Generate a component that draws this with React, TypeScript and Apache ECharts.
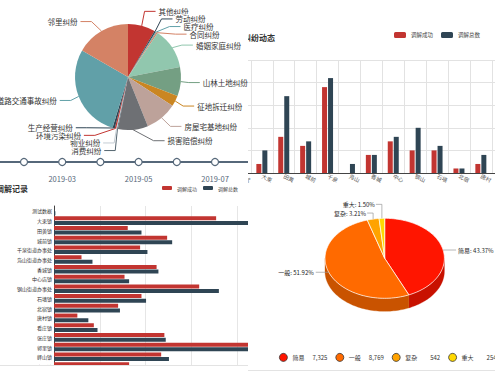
import React, { useEffect, useRef } from 'react';
import * as echarts from 'echarts';

const FONT = '"Noto Sans CJK SC", "Noto Sans", sans-serif';
const PALETTE = ['#c23531', '#2f4554', '#61a0a8', '#d48265', '#91c7ae', '#749f83', '#ca8622', '#bda29a', '#6e7074', '#546570', '#c4ccd3'];

// ---- Panel A: dispute types pie + timeline
const disputeTypes = ['其他纠纷', '劳动纠纷', '医疗纠纷', '合同纠纷', '婚姻家庭纠纷', '山林土地纠纷', '征地拆迁纠纷', '房屋宅基地纠纷', '损害赔偿纠纷', '消费纠纷', '物业纠纷', '环境污染纠纷', '生产经营纠纷', '道路交通事故纠纷', '邻里纠纷'];
const disputeCounts = [60, 3, 2, 3, 90, 64, 24, 70, 66, 2, 2, 3, 5, 206, 120];
const timelineMonths = ['2019-01', '2019-02', '2019-03', '2019-04', '2019-05', '2019-06', '2019-07', '2019-08'];
const timelineLevel = [0, 0, 0, 0, 0, 0, 0, 0];

// ---- Panel B: monthly dispute dynamics by town
const townShort = ['测试', '大束', '田黄', '城前', '千泉', '凫山', '香城', '中心', '钢山', '石墙', '北宿', '唐村', '看庄', '张庄', '郭里', '峄山'];
const dynSuccess = [0, 2, 8, 6, 19, 0, 4, 7, 5, 5, 1, 2, 3, 6, 9, 5];
const dynTotal = [0, 5, 17, 7, 21, 2, 4, 8, 10, 6, 1, 4, 4, 7, 10, 6];

// ---- Panel C: mediation records by town
const towns = ['测试数据', '大束镇', '田黄镇', '城前镇', '千泉街道办事处', '凫山街道办事处', '香城镇', '中心店镇', '钢山街道办事处', '石墙镇', '北宿镇', '唐村镇', '看庄镇', '张庄镇', '郭里镇', '峄山镇', '太平镇', '高新区'];
const recSuccess = [0, 354, 161, 247, 188, 60, 224, 154, 317, 191, 140, 51, 87, 241, 440, 234, 164, 120];
const recTotal = [3, 430, 191, 258, 204, 84, 228, 164, 360, 201, 144, 75, 95, 244, 450, 251, 190, 140];

// ---- Panel D: dispute level 3D pie
const levels = ['简易', '一般', '复杂', '重大'];
const levelCounts = [7325, 8769, 542, 254];
const levelColors = ['#ff1500', '#ff6a00', '#ffa300', '#ffd800'];
const levelSideColors = ['#c81100', '#c95300', '#c98000', '#c9aa00'];

const SUCCESS = '调解成功';
const TOTAL = '调解总数';

function Chart({ style, option }: { style: React.CSSProperties; option: any }) {
  const ref = useRef<HTMLDivElement>(null);
  useEffect(() => {
    const c = echarts.init(ref.current!, null, { renderer: 'svg' });
    c.setOption(option);
    return () => c.dispose();
  }, []);
  return <div ref={ref} style={{ position: 'absolute', ...style }} />;
}

// Classic (v4 style) outside-label layout for the dispute pie
const PIE_A = { cx: 128, cy: 77, r: 53, len: 11, len2: 11, h: 7.6, viewH: 184 };

function adjustSide(list: any[], dir: number) {
  const { cx, cy, r, viewH } = PIE_A;
  list.sort((a, b) => a.y - b.y);
  const len = list.length;
  const shiftUp = (end: number, delta: number) => {
    for (let j = end; j >= 0; j--) {
      list[j].y -= delta;
      if (j > 0 && list[j].y > list[j - 1].y + list[j - 1].height) break;
    }
  };
  const shiftDown = (start: number, end: number, delta: number) => {
    for (let j = start; j < end; j++) {
      list[j].y += delta;
      if (j > start && j + 1 < end && list[j + 1].y > list[j].y + list[j].height) {
        shiftUp(j, delta / 2);
        return;
      }
    }
    shiftUp(end - 1, delta / 2);
  };
  let lastY = 0;
  for (let i = 0; i < len; i++) {
    const delta = list[i].y - lastY;
    if (delta < 0) shiftDown(i, len, -delta);
    lastY = list[i].y + list[i].height;
  }
  if (viewH - lastY < 0 && len) shiftUp(len - 1, lastY - viewH);
  const up = list.filter((it) => it.y < cy);
  const down = list.filter((it) => it.y >= cy);
  const changeX = (arr: any[], isDown: boolean) => {
    let last = isDown ? Number.MAX_VALUE : 0;
    for (const it of arr) {
      const dY = Math.abs(it.y - cy);
      const R = r + it.len + it.len2;
      let dX = dY < r + it.len ? Math.sqrt(R * R - dY * dY) : Math.abs(it.x - cx);
      if (isDown && dX >= last) dX = last - 10;
      if (!isDown && dX <= last) dX = last + 10;
      it.x = cx + dX * dir;
      last = dX;
    }
  };
  changeX(up, false);
  changeX(down, true);
}

const pieLabelPos = (() => {
  const { cx, cy, r, len, len2, h } = PIE_A;
  const total = disputeCounts.reduce((s, v) => s + v, 0);
  let acc = 0;
  const items = disputeCounts.map((v, i) => {
    const mid = ((acc + v / 2) / total) * Math.PI * 2;
    acc += v;
    const dx = Math.sin(mid);
    const dy = -Math.cos(mid);
    const x1 = cx + r * dx; const y1 = cy + r * dy;
    const x2 = x1 + dx * len; const y2 = y1 + dy * len;
    const x3 = x2 + (dx < 0 ? -1 : 1) * len2; const y3 = y2;
    return { i, x: x3 + (dx < 0 ? -3 : 3), y: y3, len, len2, height: h, lp: [[x1, y1], [x2, y2], [x3, y3]] };
  });
  adjustSide(items.filter((it) => it.x >= cx), 1);
  adjustSide(items.filter((it) => it.x < cx), -1);
  const out: any[] = [];
  items.forEach((it) => {
    const dist = it.lp[1][0] - it.lp[2][0];
    const left = it.x < cx;
    it.lp[2][0] = left ? it.x + 3 : it.x - 3;
    it.lp[1][1] = it.y;
    it.lp[2][1] = it.y;
    it.lp[1][0] = it.lp[2][0] + dist;
    out[it.i] = { x: it.x, y: it.y, align: left ? 'right' : 'left', lp: it.lp };
  });
  return out;
})();

const optionA = {
  animation: false,
  color: PALETTE,
  textStyle: { fontFamily: FONT },
  grid: { left: -14.2, top: 152, width: 267.4, height: 20, outerBoundsMode: 'none', containLabel: false },
  xAxis: {
    type: 'category', boundaryGap: false, data: timelineMonths,
    axisLine: { show: false }, axisTick: { show: false }, splitLine: { show: false },
    axisLabel: { interval: 1, fontSize: 7.5, color: '#56687a', margin: 3, fontFamily: FONT },
  },
  yAxis: { type: 'value', min: -1, max: 1, show: false },
  series: [
    {
      type: 'pie', center: [PIE_A.cx, PIE_A.cy], radius: PIE_A.r, avoidLabelOverlap: false,
      data: disputeTypes.map((n, i) => ({ name: n, value: disputeCounts[i] })),
      label: { fontSize: 7.5, fontFamily: FONT, overflow: 'none' },
      labelLine: { length: PIE_A.len, length2: PIE_A.len2, lineStyle: { width: 1 } },
      labelLayout: (p: any) => {
        const L = pieLabelPos[p.dataIndex];
        return { x: L.x, y: L.y, align: L.align, verticalAlign: 'middle', labelLinePoints: L.lp };
      },
      itemStyle: { borderWidth: 0 },
      silent: true,
    },
    {
      type: 'line', data: timelineLevel, symbol: 'circle', symbolSize: 7,
      lineStyle: { color: '#56687a', width: 1.8 },
      itemStyle: { color: '#ffffff', borderColor: '#56687a', borderWidth: 1.2 },
      silent: true,
    },
  ],
};

const optionB = {
  animation: false,
  textStyle: { fontFamily: FONT },
  title: { text: '矛盾纠纷动态', left: -21, top: 33, padding: 0, textStyle: { fontSize: 8, fontWeight: 'bold', color: '#333', fontFamily: FONT } },
  legend: {
    left: 146, top: 32, padding: 0, itemWidth: 12, itemHeight: 6, itemGap: 8,
    textStyle: { fontSize: 5.5, color: '#444', fontFamily: FONT }, data: [SUCCESS, TOTAL],
  },
  grid: { left: -19, top: 60, height: 113, width: 350.4, outerBoundsMode: 'none', containLabel: false },
  xAxis: {
    type: 'category', data: townShort,
    axisLine: { lineStyle: { color: '#444' } },
    axisTick: { length: 3, lineStyle: { color: '#444' } },
    axisLabel: { interval: 0, rotate: -25, fontSize: 5.5, color: '#555', margin: 3, fontFamily: FONT },
    splitLine: { show: true, lineStyle: { color: '#e2e2e2' } },
  },
  yAxis: {
    type: 'value', min: 0, max: 25, interval: 5,
    axisLabel: { show: false }, axisLine: { show: false }, axisTick: { show: false },
    splitLine: { lineStyle: { color: '#e2e2e2' } },
  },
  series: [
    { name: SUCCESS, type: 'bar', data: dynSuccess, barWidth: 5, barGap: '20%', itemStyle: { color: '#c23531' } },
    { name: TOTAL, type: 'bar', data: dynTotal, barWidth: 5, barGap: '20%', itemStyle: { color: '#2f4554' } },
  ],
};

const optionC = {
  animation: false,
  textStyle: { fontFamily: FONT },
  title: { text: '调解记录', left: -4, top: 0.5, padding: 0, textStyle: { fontSize: 8, fontWeight: 'bold', color: '#333', fontFamily: FONT } },
  legend: {
    left: 162, top: 1.5, padding: 0, itemWidth: 10, itemHeight: 4, itemGap: 6,
    textStyle: { fontSize: 5, color: '#444', fontFamily: FONT }, data: [SUCCESS, TOTAL],
  },
  grid: { left: 54, top: 22, width: 274.8, height: 175.1, outerBoundsMode: 'none', containLabel: false },
  xAxis: {
    type: 'value', min: 0, max: 600, interval: 100,
    axisLabel: { show: false }, axisLine: { show: false }, axisTick: { show: false },
    splitLine: { lineStyle: { color: '#e6e6e6' } },
  },
  yAxis: {
    type: 'category', inverse: true, data: towns,
    axisLine: { lineStyle: { color: '#444' } },
    axisTick: { length: 2, lineStyle: { color: '#444' } },
    axisLabel: { interval: 0, fontSize: 5, color: '#333', margin: 2, fontFamily: FONT },
  },
  series: [
    { name: SUCCESS, type: 'bar', data: recSuccess, barWidth: 4, barGap: '15%', itemStyle: { color: '#c23531' } },
    { name: TOTAL, type: 'bar', data: recTotal, barWidth: 4, barGap: '15%', itemStyle: { color: '#2f4554' } },
  ],
};

const levelTotal = levelCounts.reduce((s, v) => s + v, 0);
const levelStart: number[] = [];
levelCounts.reduce((acc, v, i) => { levelStart[i] = acc / levelTotal; return acc + v; }, 0);

const PIE3D = { cx: 136.7, cy: 68.3, a: 59.7, b: 40, depth: 13 };

function renderPie3D(params: any, api: any) {
  const i = params.dataIndex;
  const v = api.value(0);
  const { cx, cy, a, b, depth } = PIE3D;
  const t0 = levelStart[i] * Math.PI * 2;
  const t1 = t0 + (v / levelTotal) * Math.PI * 2;
  const pt = (t: number, dy = 0) => [cx + a * Math.sin(t), cy - b * Math.cos(t) + dy];
  const arc = (s: number, e: number, dy = 0) => {
    const n = Math.max(2, Math.ceil(Math.abs(e - s) / 0.03));
    const out: number[][] = [];
    for (let k = 0; k <= n; k++) out.push(pt(s + ((e - s) * k) / n, dy));
    return out;
  };
  const children: any[] = [];
  const w0 = Math.max(t0, Math.PI / 2);
  const w1 = Math.min(t1, (Math.PI * 3) / 2);
  if (w1 > w0) {
    const pts = arc(w0, w1).concat(arc(w1, w0, depth));
    children.push({ type: 'polygon', shape: { points: pts }, style: { fill: levelSideColors[i], stroke: levelSideColors[i], lineWidth: 0.3 } });
  }
  children.push({
    type: 'polygon', shape: { points: [[cx, cy]].concat(arc(t0, t1)) },
    style: { fill: levelColors[i], stroke: '#ffffff', lineWidth: 0.7 },
  });
  const mid = (t0 + t1) / 2;
  const s = Math.sin(mid);
  const rim = pt(mid);
  const pct = ((v / levelTotal) * 100).toFixed(2);
  const txt = `${levels[i]}: ${pct}%`;
  let line: number[][];
  let tx: number; let ty: number; let align: string;
  if (Math.abs(s) > 0.5) {
    const dir = s > 0 ? 1 : -1;
    line = [rim, [rim[0] + dir * 13, rim[1]]];
    tx = rim[0] + dir * 15; ty = rim[1]; align = dir > 0 ? 'left' : 'right';
  } else {
    let k = 0;
    for (let j = 0; j < i; j++) {
      const mj = (levelStart[j] + levelCounts[j] / levelTotal / 2) * Math.PI * 2;
      if (Math.abs(Math.sin(mj)) <= 0.5 && Math.cos(mj) > 0) k++;
    }
    const rise = 6 + 8 * k;
    line = [rim, [rim[0], rim[1] - rise], [rim[0] - 6, rim[1] - rise]];
    tx = rim[0] - 7; ty = rim[1] - rise; align = 'right';
  }
  children.push({ type: 'polyline', shape: { points: line }, style: { stroke: '#999', lineWidth: 0.7, fill: null } });
  children.push({
    type: 'text', x: tx, y: ty,
    style: { text: txt, fill: '#222', fontSize: 6, fontFamily: FONT, align, verticalAlign: 'middle' },
  });
  return { type: 'group', children };
}

const optionD = {
  animation: false,
  textStyle: { fontFamily: FONT },
  color: levelColors,
  legend: {
    left: 31, top: 163, width: 240, padding: 0, icon: 'circle', itemWidth: 8, itemHeight: 8, itemGap: 8,
    itemStyle: { borderColor: '#333', borderWidth: 0.8 },
    data: levels,
    formatter: (name: string) => {
      const idx = levels.indexOf(name);
      return `{n|${name}}{v|${levelCounts[idx].toLocaleString('en-US')}}`;
    },
    textStyle: {
      fontSize: 6, color: '#333', fontFamily: FONT,
      rich: { n: { width: 16, fontSize: 6, fontFamily: FONT }, v: { width: 19, align: 'right', fontSize: 6, fontFamily: FONT } },
    },
  },
  series: [
    {
      type: 'custom', coordinateSystem: 'none', data: levelCounts, renderItem: renderPie3D, silent: true,
    },
    {
      type: 'pie', radius: 0, center: [-100, -100], silent: true,
      data: levels.map((n, i) => ({ name: n, value: levelCounts[i] })),
      label: { show: false }, labelLine: { show: false },
    },
  ],
};

export default function App() {
  return (
    <div style={{ position: 'fixed', left: 0, top: 0, width: 495, height: 371, background: '#fff', overflow: 'hidden' }}>
      <Chart style={{ left: 248, top: 0, width: 247, height: 190 }} option={optionB} />
      <Chart style={{ left: 0, top: 0, width: 248, height: 184 }} option={optionA} />
      <Chart style={{ left: 0, top: 184, width: 248, height: 181 }} option={optionC} />
      <Chart style={{ left: 248, top: 190, width: 247, height: 180 }} option={optionD} />
      <div style={{ position: 'absolute', left: 0, top: 365, width: 248, height: 1, background: '#e3e3e3' }} />
      <div style={{ position: 'absolute', left: 248, top: 370, width: 247, height: 1, background: '#e3e3e3' }} />
    </div>
  );
}
